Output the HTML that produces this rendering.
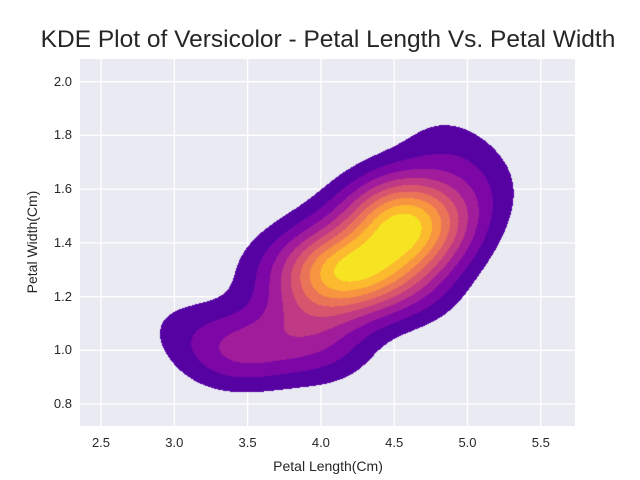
<!DOCTYPE html>
<html><head><meta charset="utf-8"><style>
body{margin:0;background:#fff;font-family:"Liberation Sans",sans-serif;}
#wrap{position:relative;width:640px;height:480px;}
#plot{position:absolute;left:80px;top:59px;width:495px;height:367px;background:#eaeaf2;}
.t{position:absolute;font-size:13px;color:#262626;}
</style></head><body>
<div id="wrap">
<div class="t" style="left:0;width:656px;text-align:center;top:26px;font-size:24.5px;white-space:nowrap;">KDE Plot of Versicolor - Petal Length Vs. Petal Width</div>
<div id="plot">
<svg id="grid" width="495" height="367" style="position:absolute;left:0;top:0"></svg>
<canvas id="cv" width="495" height="367" style="position:absolute;left:0;top:0"></canvas>
</div>
<div class="t" style="left:0;width:656px;text-align:center;top:458px;font-size:14px;">Petal Length(Cm)</div>
<div class="t" style="left:-28px;top:234px;font-size:14px;transform:rotate(-90deg);transform-origin:center;width:120px;text-align:center;">Petal Width(Cm)</div>
<div id="ticks"></div>
</div>
<script>
const petalLength=[4.7,4.5,4.9,4.0,4.6,4.5,4.7,3.3,4.6,3.9,3.5,4.2,4.0,4.7,3.6,4.4,4.5,4.1,4.5,3.9,4.8,4.0,4.9,4.7,4.3,4.4,4.8,5.0,4.5,3.5,3.8,3.7,3.9,5.1,4.5,4.5,4.7,4.4,4.1,4.0,4.4,4.6,4.0,3.3,4.2,4.2,4.2,4.3,3.0,4.1];
const petalWidth=[1.4,1.5,1.5,1.3,1.5,1.3,1.6,1.0,1.3,1.4,1.0,1.5,1.0,1.4,1.3,1.4,1.5,1.0,1.5,1.1,1.8,1.3,1.5,1.2,1.3,1.4,1.4,1.7,1.5,1.0,1.1,1.0,1.2,1.6,1.5,1.6,1.5,1.3,1.3,1.3,1.2,1.4,1.2,1.0,1.3,1.2,1.3,1.3,1.1,1.3];
const xTicks=[2.5,3.0,3.5,4.0,4.5,5.0,5.5];
const yTicks=[0.8,1.0,1.2,1.4,1.6,1.8,2.0];
const X0=80,Y0=59,W=495,H=367;
const xPx=v=>101+(v-2.5)*146.6-X0;
const yPx=v=>81.7+(2.0-v)*268.6-Y0;
const xVal=p=>(p+X0-101)/146.6+2.5;
const yVal=p=>2.0-(p+Y0-81.7)/268.6;
const grid=document.getElementById('grid'),ticks=document.getElementById('ticks');
const NS='http://www.w3.org/2000/svg';
xTicks.forEach(v=>{const l=document.createElementNS(NS,'line');const x=xPx(v);
l.setAttribute('x1',x);l.setAttribute('x2',x);l.setAttribute('y1',0);l.setAttribute('y2',H);l.setAttribute('stroke','#fff');l.setAttribute('stroke-width','1.3');


grid.appendChild(l);
const d=document.createElement('div');d.className='t';d.textContent=v.toFixed(1);d.style.left=(x+X0-15)+'px';d.style.width='30px';d.style.textAlign='center';d.style.top='435px';


ticks.appendChild(d);});
yTicks.forEach(v=>{const l=document.createElementNS(NS,'line');const y=yPx(v);
l.setAttribute('y1',y);l.setAttribute('y2',y);l.setAttribute('x1',0);l.setAttribute('x2',W);l.setAttribute('stroke','#fff');l.setAttribute('stroke-width','1.3');


grid.appendChild(l);
const d=document.createElement('div');d.className='t';d.textContent=v.toFixed(1);d.style.left='40px';d.style.width='32px';d.style.textAlign='right';d.style.top=(y+Y0-8)+'px';


ticks.appendChild(d);});
const n=petalLength.length;
function sd(a){const m=a.reduce((s,v)=>s+v,0)/a.length;return Math.sqrt(a.reduce((s,v)=>s+(v-m)*(v-m),0)/(a.length-1));}
const f=Math.pow(n,-1/6),bx=sd(petalLength)*f,by=sd(petalWidth)*f;
const dens=new Float32Array(W*H);let mx=0;
const xs=[],ys=[];for(let i=0;i<W;i++)xs.push(xVal(i+0.5));for(let j=0;j<H;j++)ys.push(yVal(j+0.5));
for(let j=0;j<H;j++){for(let i=0;i<W;i++){let s=0;for(let k=0;k<n;k++){const dx=(xs[i]-petalLength[k])/bx,dy=(ys[j]-petalWidth[k])/by;s+=Math.exp(-0.5*(dx*dx+dy*dy));}dens[j*W+i]=s;if(s>mx)mx=s;}}
const stops=[[13,8,135],[65,4,157],[106,0,168],[143,13,164],[177,42,144],[204,71,120],[225,100,98],[242,132,75],[252,166,54],[252,206,37],[240,249,33]];
function plasma(t){const p=t*10,i=Math.min(9,Math.floor(p)),r=p-i;return stops[i].map((c,q)=>Math.round(c+(stops[i+1][q]-c)*r));}
const nb=10;const cv=document.getElementById('cv'),ctx=cv.getContext('2d');const img=ctx.createImageData(W,H);
for(let p=0;p<W*H;p++){const b=Math.min(nb-1,Math.floor(dens[p]/mx*nb));if(b<1)continue;const c=plasma((b+0.5)/nb);img.data[p*4]=c[0];img.data[p*4+1]=c[1];img.data[p*4+2]=c[2];img.data[p*4+3]=255;}
ctx.putImageData(img,0,0);
</script>
</body></html>
